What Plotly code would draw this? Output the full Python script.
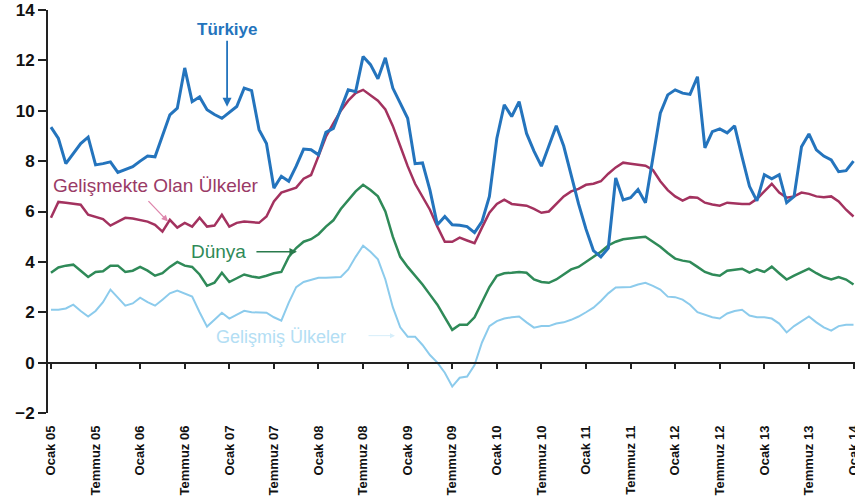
import plotly.graph_objects as go

tick_labels = ["Ocak 05", "Temmuz 05", "Ocak 06", "Temmuz 06", "Ocak 07", "Temmuz 07",
               "Ocak 08", "Temmuz 08", "Ocak 09", "Temmuz 09", "Ocak 10", "Temmuz 10",
               "Ocak 11", "Temmuz 11", "Ocak 12", "Temmuz 12", "Ocak 13", "Temmuz 13", "Ocak 14"]

turkiye = [9.35, 8.9, 7.9, 8.3, 8.7, 8.95, 7.85, 7.9, 7.97, 7.55, 7.65, 7.78, 8.0, 8.2, 8.17, 9.0,
           9.84, 10.1, 11.7, 10.36, 10.55, 10.04, 9.85, 9.7, 9.95, 10.17, 10.9, 10.8, 9.25, 8.7,
           6.93, 7.4, 7.2, 7.8, 8.48, 8.45, 8.25, 9.14, 9.3, 10.04, 10.83, 10.76, 12.15, 11.83,
           11.27, 12.1, 10.9, 10.3, 9.7, 7.9, 7.93, 6.85, 5.47, 5.8, 5.47, 5.45, 5.4, 5.16, 5.6,
           6.6, 8.9, 10.24, 9.77, 10.36, 9.1, 8.4, 7.8, 8.6, 9.4, 8.6, 7.4, 6.3, 5.3, 4.45, 4.2,
           4.55, 7.33, 6.46, 6.55, 6.87, 6.35, 8.05, 9.9, 10.63, 10.83, 10.7, 10.65, 11.35, 8.53,
           9.17, 9.28, 9.12, 9.4, 8.17, 7.0, 6.42, 7.46, 7.3, 7.46, 6.35, 6.6, 8.57, 9.08, 8.45,
           8.2, 8.05, 7.58, 7.62, 8.0]

gelismekte = [5.75, 6.38, 6.35, 6.3, 6.27, 5.87, 5.8, 5.7, 5.44, 5.6, 5.75, 5.72, 5.67, 5.6, 5.47,
              5.2, 5.67, 5.36, 5.55, 5.4, 5.75, 5.4, 5.44, 5.87, 5.4, 5.55, 5.6, 5.58, 5.55, 5.8,
              6.4, 6.75, 6.85, 6.95, 7.3, 7.45, 8.2, 8.97, 9.5, 10.0, 10.4, 10.7, 10.83, 10.63,
              10.4, 10.05, 9.4, 8.6, 7.8, 7.1, 6.6, 6.07, 5.4, 4.8, 4.8, 4.96, 4.85, 4.74, 5.36,
              5.95, 6.3, 6.47, 6.3, 6.25, 6.23, 6.1, 5.95, 6.0, 6.3, 6.6, 6.8, 6.9, 7.06, 7.1,
              7.2, 7.5, 7.75, 7.94, 7.9, 7.86, 7.82, 7.65, 7.2, 6.85, 6.6, 6.43, 6.57, 6.55, 6.35,
              6.28, 6.23, 6.35, 6.32, 6.3, 6.3, 6.5, 6.8, 7.1, 6.75, 6.55, 6.6, 6.75, 6.7, 6.6,
              6.57, 6.6, 6.4, 6.07, 5.8]

dunya = [3.57, 3.78, 3.85, 3.89, 3.65, 3.4, 3.6, 3.63, 3.85, 3.85, 3.6, 3.65, 3.8, 3.65, 3.45,
         3.55, 3.8, 4.0, 3.85, 3.8, 3.5, 3.05, 3.17, 3.57, 3.2, 3.35, 3.5, 3.42, 3.37, 3.45, 3.55,
         3.6, 4.2, 4.55, 4.8, 4.9, 5.1, 5.4, 5.65, 6.1, 6.45, 6.8, 7.06, 6.85, 6.6, 6.0, 5.0,
         4.2, 3.8, 3.45, 3.1, 2.7, 2.3, 1.8, 1.3, 1.5, 1.5, 1.8, 2.4, 3.0, 3.45, 3.55, 3.57,
         3.6, 3.57, 3.3, 3.2, 3.17, 3.3, 3.5, 3.7, 3.8, 4.0, 4.17, 4.4, 4.65, 4.8, 4.9, 4.95,
         4.97, 5.0, 4.8, 4.6, 4.35, 4.13, 4.05, 4.0, 3.8, 3.6, 3.5, 3.45, 3.65, 3.7, 3.73, 3.57,
         3.7, 3.6, 3.81, 3.55, 3.3, 3.45, 3.6, 3.73, 3.55, 3.4, 3.3, 3.4, 3.3, 3.1]

gelismis = [2.1, 2.1, 2.15, 2.3, 2.05, 1.83, 2.05, 2.4, 2.9, 2.6, 2.26, 2.35, 2.58, 2.4, 2.26,
            2.5, 2.75, 2.86, 2.75, 2.62, 2.0, 1.43, 1.7, 1.98, 1.75, 1.9, 2.06, 2.0, 2.0, 1.98,
            1.8, 1.67, 2.38, 3.0, 3.2, 3.3, 3.37, 3.37, 3.37, 3.4, 3.7, 4.2, 4.64, 4.4, 4.1, 3.3,
            2.2, 1.4, 1.03, 1.03, 0.7, 0.3, 0.0, -0.4, -0.95, -0.6, -0.55, -0.1, 0.8, 1.45, 1.65,
            1.75, 1.8, 1.83, 1.6, 1.39, 1.45, 1.45, 1.55, 1.6, 1.7, 1.83, 2.0, 2.18, 2.45, 2.75,
            2.98, 3.0, 3.0, 3.1, 3.17, 3.05, 2.9, 2.62, 2.6, 2.5, 2.3, 2.0, 1.9, 1.8, 1.75, 1.95,
            2.05, 2.1, 1.87, 1.8, 1.8, 1.75, 1.55, 1.2, 1.45, 1.65, 1.83, 1.6, 1.4, 1.27, 1.45,
            1.5, 1.5]

months = list(range(len(turkiye)))
tickvals = list(range(0, len(turkiye), 6))

C_TR = "#2474bd"
C_GO = "#a3325f"
C_DU = "#2f8a58"
C_GM = "#8ccbec"
FONT = "Liberation Sans, Arial, sans-serif"

fig = go.Figure()
fig.add_trace(go.Scatter(x=months, y=gelismis, mode="lines", line=dict(color=C_GM, width=2), showlegend=False))
fig.add_trace(go.Scatter(x=months, y=dunya, mode="lines", line=dict(color=C_DU, width=2.5), showlegend=False))
fig.add_trace(go.Scatter(x=months, y=gelismekte, mode="lines", line=dict(color=C_GO, width=2.5), showlegend=False))
fig.add_trace(go.Scatter(x=months, y=turkiye, mode="lines", line=dict(color=C_TR, width=3), showlegend=False,
                         xaxis="x2"))

xr = [-0.4, 108.2]
fig.update_layout(
    width=855, height=501,
    margin=dict(l=48, r=0, t=10, b=88, pad=0),
    paper_bgcolor="white", plot_bgcolor="white",
    font=dict(family=FONT, color="black"),
    hovermode=False,
    xaxis=dict(range=xr, tickvals=tickvals, ticktext=tick_labels, tickangle=-90,
               tickfont=dict(size=13, weight="bold", color="#111"), ticks="",
               showgrid=False, showline=False, zeroline=False, ticklabelstandoff=9,
               automargin=False, ticklabeloverflow="allow"),
    xaxis2=dict(range=xr, overlaying="x", anchor="free", position=0.125, tickvals=tickvals,
                showticklabels=False, ticks="outside", ticklen=5, tickwidth=1.5, tickcolor="#222",
                showline=True, linecolor="#222", linewidth=2, showgrid=False, zeroline=False,
                automargin=False),
    yaxis=dict(range=[-2, 14], tickvals=list(range(-2, 15, 2)), ticks="outside", ticklen=8,
               tickwidth=2, tickcolor="#222", showline=True, linecolor="#222", linewidth=2,
               tickfont=dict(size=17, weight="bold", color="#111"), showgrid=False, zeroline=False,
               automargin=False),
)

fig.add_annotation(x=23.7, y=10.16, xref="x", yref="y", text="Türkiye", showarrow=True,
                   ax=0, ay=-77, arrowhead=2, arrowsize=1, arrowwidth=1.8, arrowcolor=C_TR,
                   font=dict(size=17, color=C_TR, weight="bold"))
fig.add_annotation(x=14.2, y=7.05, xref="x", yref="y", text="Gelişmekte Olan Ülkeler", showarrow=False,
                   font=dict(size=19, color="#9a3a66"))
fig.add_annotation(x=15.75, y=5.6, xref="x", yref="y", text="", showarrow=True,
                   ax=-21, ay=-22, arrowhead=2, arrowsize=1, arrowwidth=1.3, arrowcolor="#de86ac")
fig.add_annotation(x=22.5, y=4.4, xref="x", yref="y", text="Dünya", showarrow=False,
                   font=dict(size=19, color=C_DU))
fig.add_annotation(x=33.1, y=4.4, xref="x", yref="y", text="", showarrow=True,
                   ax=-42, ay=0, arrowhead=2, arrowsize=1, arrowwidth=1.5, arrowcolor="#2a7a4c")
fig.add_annotation(x=31.0, y=1.0, xref="x", yref="y", text="Gelişmiş Ülkeler", showarrow=False,
                   font=dict(size=18, color="#b3def4"))
fig.add_annotation(x=46.3, y=1.07, xref="x", yref="y", text="", showarrow=True,
                   ax=-28, ay=0, arrowhead=2, arrowsize=1, arrowwidth=1, arrowcolor="#d6eefa")

fig.write_html("out.html", config={"displayModeBar": False},
               post_script="document.body.style.margin='0';")
